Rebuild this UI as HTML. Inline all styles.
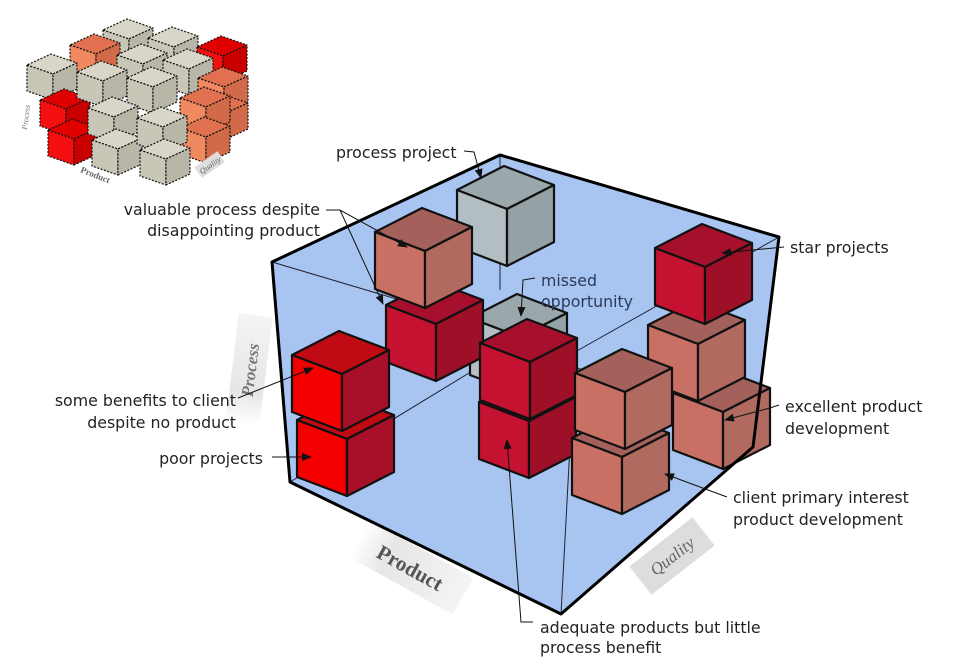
<!DOCTYPE html>
<html><head><meta charset="utf-8"><style>
html,body{margin:0;padding:0;background:#fff;width:962px;height:670px;overflow:hidden}
svg{display:block}
text{font-family:"DejaVu Sans","Liberation Sans",sans-serif;font-size:15.8px;fill:#222}
</style></head><body>
<svg id="s" width="962" height="670" viewBox="0 0 962 670">
<defs>
<marker id="ar" markerWidth="10" markerHeight="8" refX="9" refY="4" orient="auto" markerUnits="userSpaceOnUse"><path d="M0,0 L10,4 L0,8 z" fill="#111"/></marker>
<linearGradient id="gl" x1="0" y1="0" x2="1" y2="0"><stop offset="0" stop-color="#fff"/><stop offset="0.3" stop-color="#e6e6e6"/><stop offset="1" stop-color="#f4f4f4"/></linearGradient>
</defs>
<g id="thumb"></g>
<text transform="translate(27,130) rotate(-83)" style="font-family:'Liberation Serif',serif;font-style:italic;font-size:8px;fill:#777">Process</text>
<text transform="translate(80,172) rotate(22)" style="font-family:'Liberation Serif',serif;font-weight:bold;font-size:9px;fill:#666">Product</text>
<g transform="translate(210,165) rotate(-35)"><rect x="-14" y="-7" width="28" height="13" fill="#ddd"/><text x="0" y="3" text-anchor="middle" style="font-family:'Liberation Serif',serif;font-style:italic;font-size:8px;fill:#666">Quality</text></g>
<!-- axis labels -->
<g transform="translate(250,370) rotate(-83)"><rect x="-55" y="-18" width="110" height="34" fill="url(#gl)"/><text x="0" y="6" text-anchor="middle" style="font-family:'Liberation Serif',serif;font-style:italic;font-weight:bold;font-size:17px;fill:#777">Process</text></g>
<g transform="translate(410,568) rotate(29)"><rect x="-60" y="-22" width="120" height="42" fill="url(#gl)"/><text x="0" y="7" text-anchor="middle" style="font-family:'Liberation Serif',serif;font-weight:bold;font-size:21px;fill:#555">Product</text></g>
<g transform="translate(672,556) rotate(-38)"><rect x="-40" y="-18" width="80" height="36" fill="#ddd"/><text x="0" y="6" text-anchor="middle" style="font-family:'Liberation Serif',serif;font-style:italic;font-size:17px;fill:#666">Quality</text></g>
<!-- container -->
<polygon points="272,262 500,155 779,237 753,447 561,614 290,482" fill="#a8c4f0" stroke="none"/>
<polyline points="272,262 575,352 779,237" fill="none" stroke="#223" stroke-width="1"/>
<line x1="575" y1="352" x2="561" y2="614" stroke="#223" stroke-width="1"/>
<polyline points="500,155 500,290" fill="none" stroke="#223" stroke-width="1"/>
<polyline points="290,482 520,342 753,447" fill="none" stroke="#223" stroke-width="1"/>
<g id="cubes"></g>
<polygon points="272,262 500,155 779,237 753,447 561,614 290,482" fill="none" stroke="#000" stroke-width="3" stroke-linejoin="round"/>
<!-- labels -->
<text x="336" y="158">process project</text>
<polyline points="464,151 474,152 481,178" fill="none" stroke="#111" marker-end="url(#ar)"/>
<text x="320" y="215" text-anchor="end">valuable process despite</text>
<text x="320" y="236" text-anchor="end">disappointing product</text>
<polyline points="326,210 340,210 407,247" fill="none" stroke="#111" marker-end="url(#ar)"/>
<line x1="340" y1="210" x2="383" y2="304" stroke="#111" marker-end="url(#ar)"/>
<text x="541" y="286" style="fill:#2c3a5a">missed</text>
<text x="541" y="307" style="fill:#2c3a5a">opportunity</text>
<polyline points="535,278 523,280 521,316" fill="none" stroke="#111" marker-end="url(#ar)"/>
<text x="790" y="253">star projects</text>
<line x1="784" y1="247" x2="722" y2="253" stroke="#111" marker-end="url(#ar)"/>
<text x="236" y="406" text-anchor="end">some benefits to client</text>
<text x="236" y="428" text-anchor="end">despite no product</text>
<line x1="238" y1="398" x2="313" y2="368" stroke="#111" marker-end="url(#ar)"/>
<text x="263" y="464" text-anchor="end">poor projects</text>
<line x1="272" y1="457" x2="311" y2="457" stroke="#111" marker-end="url(#ar)"/>
<text x="785" y="412">excellent product</text>
<text x="785" y="434">development</text>
<polyline points="779,405 770,408 725,420" fill="none" stroke="#111" marker-end="url(#ar)"/>
<text x="733" y="503">client primary interest</text>
<text x="733" y="525">product development</text>
<polyline points="727,497 708,490 665,474" fill="none" stroke="#111" marker-end="url(#ar)"/>
<text x="540" y="633">adequate products but little</text>
<text x="540" y="653">process benefit</text>
<polyline points="533,622 521,622 507,440" fill="none" stroke="#111" marker-end="url(#ar)"/>
</svg>
<script>
var NS="http://www.w3.org/2000/svg";
function P(g,pts,fill,sw,dash){var p=document.createElementNS(NS,"polygon");p.setAttribute("points",pts.map(function(a){return a[0]+","+a[1]}).join(" "));p.setAttribute("fill",fill);p.setAttribute("stroke","#111");p.setAttribute("stroke-width",sw);p.setAttribute("stroke-linejoin","round");if(dash)p.setAttribute("stroke-dasharray",dash);g.appendChild(p);}
function cube(g,x,y,u,v,h,c,sw,dash){
 var A=[x,y],B=[x+u[0],y+u[1]],C=[x+u[0]+v[0],y+u[1]+v[1]],D=[x+v[0],y+v[1]];
 function d(p){return [p[0],p[1]+h]}
 P(g,[A,B,C,D],c[0],sw,dash);P(g,[A,B,d(B),d(A)],c[1],sw,dash);P(g,[B,C,d(C),d(B)],c[2],sw,dash);}
var RB=["#c00a14","#f40000","#a8102a"],RM=["#a6102c","#c41230","#9e1028"],SA=["#a4605a","#c87064","#b06a60"],GR=["#9aa8ac","#b2bec2","#94a2a6"];
var g=document.getElementById("cubes");
var u=[50,19],v=[47,-24],h=57;
var L=[[470,318,GR],[457,190,GR],[673,393,SA],[648,325,SA],[655,248,RM],[386,305,RM],[375,232,SA],[297,420,RB],[292,355,RB],[479,402,RM],[480,343,RM],[572,438,SA],[575,373,SA]];
L.forEach(function(c){cube(g,c[0],c[1],u,v,h,c[2],2.2)});
var t=document.getElementById("thumb");
var BE=["#d8d6c8","#c8c6b6","#b8b6a6"],OR=["#e07050","#f08860","#d06a48"],RD=["#e00000","#f41010","#c80000"];
var tu=[26,9],tv=[24,-11],th=26;
var T=[[103,30,BE],[148,38,BE],[70,45,OR],[197,47,RD],[117,55,BE],[163,60,BE],[198,78,OR],[198,105,OR],[27,65,BE],[40,100,RD],[48,130,RD],[77,72,BE],[127,78,BE],[180,98,OR],[180,128,OR],[88,108,BE],[92,140,BE],[137,118,BE],[140,150,BE]];
T.forEach(function(c){cube(t,c[0],c[1],tu,tv,th,c[2],1.2,"2,1.5")});
</script>
</body></html>
